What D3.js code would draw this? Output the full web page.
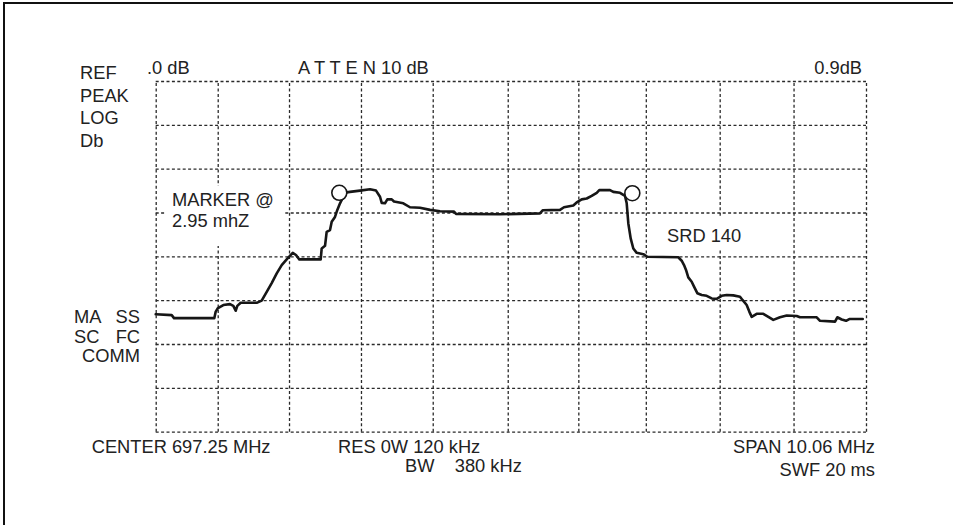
<!DOCTYPE html>
<html lang="en">

<head>
    <meta charset="utf-8">
    <title>spectrum</title>
    <style>
        body {
            margin: 0;
            background: #fff;
        }

        .grid line {
            stroke: #2a2a2a;
            stroke-width: 1.3;
            stroke-dasharray: 3, 2.4;
        }

        .lbl {
            fill: #222;
            font-size: 18.3px;
            font-family: "Liberation Sans", Arial, sans-serif;
            white-space: pre;
        }
    </style>
</head>

<body>
    <div id="chart"></div>
    <script src="https://cdn.jsdelivr.net/npm/d3@7"></script>
    <script>
        // trace, x in screen divisions (0..10), y in dB (ref 0 dB, 10 dB/div)
        var traceDiv = [0, 0.225, 0.258, 0.825, 0.845, 0.877, 0.952, 1.046, 1.093, 1.126, 1.149, 1.197, 1.422, 1.492,
            1.563, 1.633, 1.704, 1.774, 1.844, 1.929, 1.975, 2.022, 2.323, 2.337, 2.384, 2.407, 2.454, 2.478, 2.524,
            2.557, 2.595, 2.641, 2.689, 2.735, 2.876, 3.017, 3.102, 3.158, 3.182, 3.228, 3.261, 3.323, 3.355, 3.486,
            3.58, 3.721, 3.862, 4.003, 4.2, 4.228, 4.847, 5.41, 5.448, 5.692, 5.748, 5.879, 5.927, 5.998, 6.068,
            6.138, 6.209, 6.245, 6.396, 6.442, 6.537, 6.607, 6.631, 6.654, 6.687, 6.724, 6.772, 6.865, 6.921, 7.357,
            7.405, 7.438, 7.466, 7.498, 7.546, 7.579, 7.625, 7.687, 7.757, 7.828, 7.898, 7.968, 8.039, 8.132, 8.226,
            8.264, 8.32, 8.357, 8.391, 8.461, 8.554, 8.625, 8.695, 8.789, 8.884, 9.024, 9.071, 9.306, 9.353, 9.564,
            9.596, 9.658, 9.719, 9.765, 9.954];
        var traceDb = [-53.2, -53.4, -54.1, -54.1, -52.6, -51.8, -51.1, -50.9, -51.3, -52.4, -51.3, -50.6, -50.6, -50.1,
            -48.1, -46.1, -43.9, -42.0, -40.7, -39.2, -39.7, -40.7, -40.7, -38.2, -37.6, -34.4, -34.0, -32.1, -31.0,
            -29.4, -27.9, -26.4, -25.4, -25.3, -25.0, -24.7, -25.0, -26.4, -27.8, -27.9, -27.0, -27.0, -27.5, -27.9,
            -28.8, -28.9, -29.4, -29.7, -29.8, -30.3, -30.4, -30.2, -29.5, -29.4, -28.8, -28.4, -27.7, -27.0, -26.8,
            -26.2, -25.5, -24.9, -24.9, -25.3, -25.5, -26.2, -27.9, -32.5, -35.9, -38.2, -39.2, -39.5, -40.1, -40.2,
            -41.0, -42.0, -43.1, -44.8, -45.8, -46.9, -48.4, -48.8, -49.0, -49.6, -49.7, -49.0, -48.8, -48.9, -49.2,
            -50.0, -51.1, -52.6, -53.8, -53.1, -53.1, -53.8, -54.5, -53.9, -53.5, -53.6, -53.9, -53.9, -54.7, -54.9,
            -53.9, -54.4, -54.7, -54.3, -54.3];

        var markerDiv = [2.585, 6.71];
        var markerDb = [-25.5, -25.6];

        // graticule
        var gridDiv = [0, 0.873, 1.877, 2.89, 3.9, 4.956, 5.95, 6.9, 7.94, 8.98, 10];
        var gridDb = [0, -10, -20, -30, -40, -50, -60, -70, -80];

        // screen annotations
        var topLabels = [".0 dB", "A T T E N 10 dB", "0.9dB"];
        var leftLabels = ["REF", "PEAK", "LOG", "Db"];
        var modeLabels = [["MA", "SS"], ["SC", "FC"], ["", "COMM"]];
        var markerLabels = ["MARKER @", "2.95 mhZ"];
        var srdLabel = "SRD 140";
        var bottomLabels = ["CENTER 697.25 MHz", "RES 0W 120 kHz", "BW    380 kHz", "SPAN 10.06 MHz", "SWF 20 ms"];

        var svgWidth = 953;
        var svgHeight = 525;
        var plotL = 155.7, plotR = 866, plotT = 81, plotB = 431.7;

        var svg = d3.select('#chart')
            .append('svg')
            .attr('width', svgWidth)
            .attr('height', svgHeight)
            .style('display', 'block');

        // frame (only top and left edges show)
        svg.append('path')
            .attr('d', `M4,${svgHeight} V3 H${svgWidth}`)
            .attr('fill', 'none')
            .attr('stroke', '#111')
            .attr('stroke-width', 2);

        var xScale = d3.scaleLinear().domain([0, 10]).range([plotL, plotR]);
        var yScale = d3.scaleLinear().domain([-80, 0]).range([plotB, plotT]);

        var xGrid = d3.axisBottom(xScale).tickValues(gridDiv).tickSize(-(plotB - plotT)).tickFormat('');
        var yGrid = d3.axisLeft(yScale).tickValues(gridDb).tickSize(-(plotR - plotL)).tickFormat('');

        svg.append('g')
            .attr('class', 'grid')
            .attr('transform', `translate(0,${plotB})`)
            .call(xGrid)
            .call(g => g.select('.domain').remove());

        svg.append('g')
            .attr('class', 'grid')
            .attr('transform', `translate(${plotL},0)`)
            .call(yGrid)
            .call(g => g.select('.domain').remove());

        // the on-screen text blanks out the graticule behind it
        svg.append('rect').attr('x', 166).attr('y', 186).attr('width', 118).attr('height', 60).attr('fill', '#fff');
        svg.append('rect').attr('x', 660).attr('y', 216).attr('width', 88).attr('height', 34).attr('fill', '#fff');

        var pts = traceDiv.map((d, i) => [d, traceDb[i]]);
        var line = d3.line()
            .x(d => xScale(d[0]))
            .y(d => yScale(d[1]));

        svg.append('path')
            .datum(pts)
            .attr('d', line)
            .attr('fill', 'none')
            .attr('stroke', '#161616')
            .attr('stroke-width', 2.6)
            .attr('stroke-linejoin', 'round')
            .attr('stroke-linecap', 'round');

        svg.selectAll('circle.mk')
            .data(markerDiv)
            .enter()
            .append('circle')
            .attr('class', 'mk')
            .attr('cx', d => xScale(d))
            .attr('cy', (d, i) => yScale(markerDb[i]))
            .attr('r', 7.5)
            .attr('fill', '#fff')
            .attr('stroke', '#161616')
            .attr('stroke-width', 1.6);

        function label(txt, x, y, anchor) {
            svg.append('text')
                .attr('class', 'lbl')
                .attr('x', x)
                .attr('y', y)
                .attr('text-anchor', anchor || 'start')
                .text(txt);
        }

        label(topLabels[0], 147, 74);
        label(topLabels[1], 298, 74);
        label(topLabels[2], 862, 74, 'end');

        leftLabels.forEach((t, i) => label(t, 80, 79 + i * 22.6));

        modeLabels.forEach((pair, i) => {
            label(pair[0], 74, 323.3 + i * 19.2);
            label(pair[1], 140, 323.3 + i * 19.2, 'end');
        });

        label(markerLabels[0], 172, 206);
        label(markerLabels[1], 172, 227.3);
        label(srdLabel, 667, 241.7);

        label(bottomLabels[0], 91.7, 453.3);
        label(bottomLabels[1], 338, 453.3);
        label(bottomLabels[2], 405, 472);
        label(bottomLabels[3], 875, 453.3, 'end');
        label(bottomLabels[4], 875, 475.7, 'end');
    </script>
</body>

</html>
